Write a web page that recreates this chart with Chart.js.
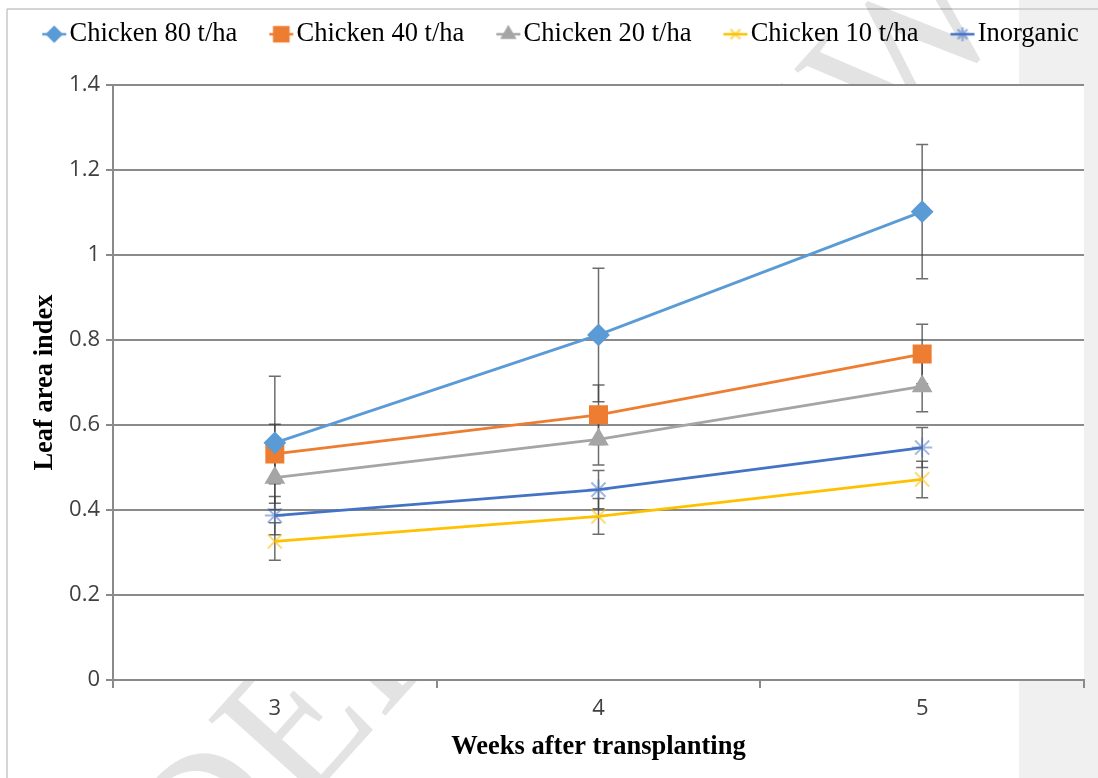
<!DOCTYPE html>
<html>
<head>
<meta charset="utf-8">
<script src="https://cdn.jsdelivr.net/npm/chart.js@4.4.1/dist/chart.umd.min.js"></script>
<style>
   html, body {
      margin: 0;
      padding: 0;
      background: linear-gradient(to right, #ffffff 1019px, #f0f0f0 1019px);
   }
   #wrap {
      width: 1098px;
      height: 778px;
   }
</style>
</head>
<body>
<div id="wrap"><canvas id="graphique" width="1098" height="778"></canvas></div>
<script>
// Semaines après repiquage
const weeks = ['3', '4', '5'];

// Moyennes
const chicken80 = [0.558, 0.812, 1.102];
const chicken40 = [0.532, 0.624, 0.767];
const chicken20 = [0.476, 0.566, 0.691];
const chicken10 = [0.326, 0.385, 0.472];
const inorganic = [0.387, 0.448, 0.547];

// Barres d'erreur (+/-)
const err80 = [0.157, 0.157, 0.158];
const err40 = [0.07, 0.07, 0.07];
const err20 = [0.06, 0.06, 0.06];
const err10 = [0.044, 0.042, 0.043];
const errInorganic = [0.045, 0.045, 0.047];

const yTicks = [0, 0.2, 0.4, 0.6, 0.8, 1, 1.2, 1.4];

const serif = "'Liberation Serif', 'Times New Roman', serif";
const sans = "'Open Sans', 'Noto Sans', sans-serif";
const gridColor = '#8a8a8a';

// Icône de légende : trait + marqueur (façon Excel), calée à droite du canvas
function legendIcon(color, markerColor, style, radius) {
   const c = document.createElement('canvas');
   c.width = 60;
   c.height = 20;
   const ctx = c.getContext('2d');
   ctx.strokeStyle = color;
   ctx.lineWidth = 2.5;
   ctx.beginPath();
   ctx.moveTo(35, 10);
   ctx.lineTo(59, 10);
   ctx.stroke();
   ctx.fillStyle = markerColor;
   ctx.strokeStyle = markerColor;
   Chart.helpers.drawPoint(ctx, {pointStyle: style, radius: radius, borderWidth: 2, rotation: 0}, 47, 10);
   return c;
}

const series = [
   {label: 'Chicken 80 t/ha', data: chicken80, err: err80, color: '#5b9bd5', marker: '#5b9bd5', style: 'rectRot', radius: 10, legendRadius: 7},
   {label: 'Chicken 40 t/ha', data: chicken40, err: err40, color: '#ed7d31', marker: '#ed7d31', style: 'rect', radius: 12, legendRadius: 10},
   {label: 'Chicken 20 t/ha', data: chicken20, err: err20, color: '#a5a5a5', marker: '#a5a5a5', style: 'triangle', radius: 10, legendRadius: 7},
   {label: 'Chicken 10 t/ha', data: chicken10, err: err10, color: '#ffc000', marker: 'rgba(255, 192, 0, 0.55)', style: 'crossRot', radius: 10, legendRadius: 7},
   {label: 'Inorganic', data: inorganic, err: errInorganic, color: '#4472c4', marker: 'rgba(68, 114, 196, 0.5)', style: 'star', radius: 10, legendRadius: 7}
];

const legendIcons = series.map(s => legendIcon(s.color, s.marker, s.style, s.legendRadius));

// Fond : bordures de page, filigrane, zone de tracé blanche
const backgroundPlugin = {
   id: 'fond',
   beforeDraw(chart) {
      const ctx = chart.ctx;
      const area = chart.chartArea;
      ctx.save();
      ctx.strokeStyle = '#c8c8c8';
      ctx.lineWidth = 1.5;
      ctx.beginPath();
      ctx.moveTo(7, 9);
      ctx.lineTo(1098, 9);
      ctx.moveTo(7, 9);
      ctx.lineTo(7, 778);
      ctx.stroke();

      ctx.translate(476, 538);
      ctx.rotate(-48 * Math.PI / 180);
      ctx.font = '197px ' + serif;
      ctx.fillStyle = 'rgba(0, 0, 0, 0.11)';
      ctx.textAlign = 'center';
      ctx.textBaseline = 'middle';
      ctx.fillText('UNDER REVIEW', 0, 0);
      ctx.restore();

      ctx.save();
      ctx.fillStyle = '#ffffff';
      ctx.fillRect(area.left, area.top, area.right - area.left, area.bottom - area.top);
      ctx.restore();
   }
};

// Barres d'erreur verticales avec embouts
const errorBarsPlugin = {
   id: 'errorBars',
   beforeDatasetsDraw(chart) {
      const ctx = chart.ctx;
      const yScale = chart.scales.y;
      ctx.save();
      ctx.strokeStyle = 'rgba(60, 60, 60, 0.75)';
      ctx.lineWidth = 1.5;
      chart.data.datasets.forEach((ds, i) => {
         const meta = chart.getDatasetMeta(i);
         meta.data.forEach((pt, j) => {
            const v = ds.data[j];
            const e = ds.errors[j];
            const yTop = yScale.getPixelForValue(v + e);
            const yBot = yScale.getPixelForValue(v - e);
            ctx.beginPath();
            ctx.moveTo(pt.x, yTop);
            ctx.lineTo(pt.x, yBot);
            ctx.moveTo(pt.x - 6, yTop);
            ctx.lineTo(pt.x + 6, yTop);
            ctx.moveTo(pt.x - 6, yBot);
            ctx.lineTo(pt.x + 6, yBot);
            ctx.stroke();
         });
      });
      ctx.restore();
   }
};

// Hauteur fixe de la légende, puis léger décalage de sa position
const legendHeightPlugin = {
   id: 'legendHeight',
   beforeInit(chart) {
      const fit = chart.legend.fit;
      chart.legend.fit = function() {
         fit.bind(chart.legend)();
         this.height = 85;
      };
   },
   afterLayout(chart) {
      const lg = chart.legend;
      lg.left += 6;
      lg.right += 6;
      lg.top += 13;
      lg.bottom += 13;
   }
};

new Chart(
   document.getElementById('graphique'),
   {
      type: 'line',
      data: {
         labels: weeks,
         datasets: series.map(s => ({
            label: s.label,
            data: s.data,
            errors: s.err,
            borderColor: s.color,
            backgroundColor: s.color,
            borderWidth: 2.75,
            pointStyle: s.style,
            pointRadius: s.radius,
            pointHoverRadius: s.radius,
            pointBackgroundColor: s.marker,
            pointBorderColor: s.marker,
            pointBorderWidth: 2,
            tension: 0,
            fill: false
         }))
      },
      options: {
         responsive: false,
         animation: false,
         layout: {
            padding: {left: 0, right: 13, top: 0, bottom: 0}
         },
         plugins: {
            legend: {
               position: 'top',
               labels: {
                  usePointStyle: true,
                  pointStyleWidth: 38,
                  boxHeight: 20,
                  padding: 8,
                  color: '#000000',
                  font: {family: serif, size: 26.5},
                  generateLabels: function(chart) {
                     const items = Chart.defaults.plugins.legend.labels.generateLabels(chart);
                     return items.map((item, i) => Object.assign(item, {pointStyle: legendIcons[i]}));
                  }
               }
            },
            tooltip: {enabled: false}
         },
         scales: {
            x: {
               offset: true,
               grid: {
                  offset: true,
                  drawOnChartArea: false,
                  drawTicks: true,
                  tickLength: 8,
                  color: gridColor,
                  lineWidth: 2
               },
               border: {color: gridColor, width: 2},
               ticks: {
                  color: '#404040',
                  padding: 8,
                  font: {family: sans, size: 22}
               },
               title: {
                  display: true,
                  text: 'Weeks after transplanting',
                  color: '#000000',
                  font: {family: serif, size: 26.5, weight: 'bold'},
                  padding: {top: 15, bottom: 15}
               },
               afterFit(scale) {
                  scale.height = 98;
               }
            },
            y: {
               min: 0,
               max: 1.4,
               afterBuildTicks(scale) {
                  scale.ticks = yTicks.map(v => ({value: v}));
               },
               grid: {
                  color: gridColor,
                  lineWidth: 2,
                  tickLength: 7
               },
               border: {color: gridColor, width: 2},
               ticks: {
                  color: '#404040',
                  padding: 6,
                  font: {family: sans, size: 22},
                  callback: function(v) {
                     return String(+v.toFixed(1));
                  }
               },
               title: {
                  display: true,
                  text: 'Leaf area index',
                  color: '#000000',
                  font: {family: serif, size: 26.5, weight: 'bold'},
                  padding: {top: 29, bottom: 29}
               },
               afterFit(scale) {
                  scale.width = 113;
               }
            }
         }
      },
      plugins: [backgroundPlugin, errorBarsPlugin, legendHeightPlugin]
   }
);
</script>
</body>
</html>
